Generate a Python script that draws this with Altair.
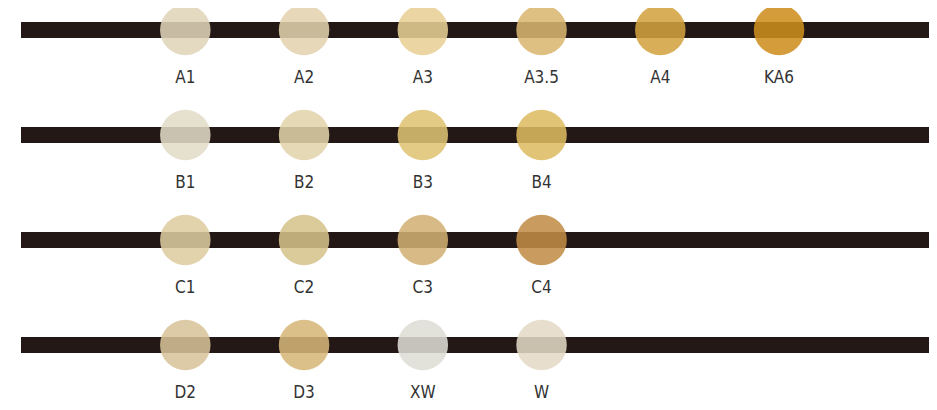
import altair as alt
import pandas as pd

# ---- data -------------------------------------------------------------
labels = ["A1", "A2", "A3", "A3.5", "A4", "KA6",
          "B1", "B2", "B3", "B4",
          "C1", "C2", "C3", "C4",
          "D2", "D3", "XW", "W"]
rows = [0, 0, 0, 0, 0, 0,
        1, 1, 1, 1,
        2, 2, 2, 2,
        3, 3, 3, 3]
cols = [0, 1, 2, 3, 4, 5,
        0, 1, 2, 3,
        0, 1, 2, 3,
        0, 1, 2, 3]
# shade colours as they appear on white
seen = ["#e4dac2", "#e6d8b8", "#ebd6a3", "#dfc083", "#d9ae58", "#d49c3b",
        "#e6e0cf", "#e6d9b5", "#e3cb86", "#e2c476",
        "#e2d3ad", "#dbca9a", "#d7ba85", "#c99b5e",
        "#ddcba7", "#dcc08a", "#e2e1da", "#e7decd"]
bar_rows = [0, 1, 2, 3]
bar_start = -1.3836
bar_end = 6.2627

OPACITY = 0.87


def to_fill(hexcol):
    h = hexcol.lstrip("#")
    ch = [int(h[i:i + 2], 16) for i in (0, 2, 4)]
    out = [max(0, min(255, round((c - (1 - OPACITY) * 255) / OPACITY))) for c in ch]
    return "#" + "".join(f"{c:02x}" for c in out)


fills = [to_fill(c) for c in seen]

shades = pd.DataFrame({"label": labels, "row": rows, "col": cols, "fill": fills})
bars = pd.DataFrame({"row": bar_rows,
                     "x0": [bar_start] * len(bar_rows),
                     "x1": [bar_end] * len(bar_rows)})

W, H = 921, 394
xscale = alt.Scale(domain=[-1.4931, 6.2627], nice=False, zero=False)
yscale = alt.Scale(domain=[-0.20952, 3.54286], nice=False, zero=False, reverse=True)

FONT = "Liberation Sans Narrow, Arial Narrow, DejaVu Sans Condensed, Roboto Condensed, Roboto, sans-serif"

bar_layer = alt.Chart(bars).mark_rule(
    strokeWidth=16, color="#231815", strokeCap="butt"
).encode(
    x=alt.X("x0:Q", scale=xscale, axis=None),
    x2="x1:Q",
    y=alt.Y("row:Q", scale=yscale, axis=None),
)

circle_layer = alt.Chart(shades).mark_circle(
    size=2550, opacity=OPACITY, stroke=None
).encode(
    x=alt.X("col:Q", scale=xscale, axis=None),
    y=alt.Y("row:Q", scale=yscale, axis=None),
    color=alt.Color("fill:N", scale=None, legend=None),
)

text_layer = alt.Chart(shades).mark_text(
    dy=48, baseline="middle", align="center",
    font=FONT, fontSize=17, color="#333333"
).encode(
    x=alt.X("col:Q", scale=xscale, axis=None),
    y=alt.Y("row:Q", scale=yscale, axis=None),
    text="label:N",
)

chart = alt.layer(bar_layer, circle_layer, text_layer).properties(
    width=W, height=H, padding=0,
    autosize=alt.AutoSizeParams(type="none"),
    background="white",
).configure_view(stroke=None)

chart.save("out.html", embed_options={"renderer": "svg", "actions": False})
